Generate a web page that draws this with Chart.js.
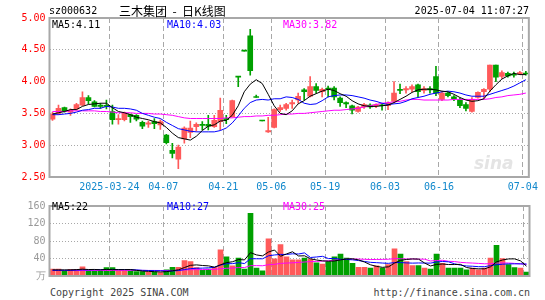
<!DOCTYPE html>
<html>
<head>
<meta charset="utf-8">
<script src="https://cdn.jsdelivr.net/npm/chart.js@4.4.1/dist/chart.umd.min.js"></script>
<style>
  html, body { margin: 0; padding: 0; background: #fff; }
  #wrap { position: relative; width: 545px; height: 300px; overflow: hidden;
          font-family: "DejaVu Sans Mono", monospace; font-size: 10px; color: #000; }
  #wrap canvas { position: absolute; left: 0; }
  .t { position: absolute; white-space: pre; line-height: 12px; }
</style>
</head>
<body>
<div id="wrap">
  <canvas id="kline" width="545" height="196" style="top:0"></canvas>
  <canvas id="volume" width="545" height="90" style="top:196px"></canvas>

  <div class="t" style="left:49px;top:5px">sz000632</div>
  <div class="t" style="left:119px;top:3px;font-family:'Noto Sans CJK SC';font-size:12px;line-height:16px">三木集团  -  日K线图</div>
  <div class="t" style="right:16px;top:5px">2025-07-04 11:07:27</div>

  <div class="t" style="left:52px;top:19px">MA5:4.11</div>
  <div class="t" style="left:167px;top:19px;color:#0000ff">MA10:4.03</div>
  <div class="t" style="left:283px;top:19px;color:#ff00ff">MA30:3.82</div>

  <div class="t" style="left:474px;top:154px;font-family:'DejaVu Sans';font-style:italic;font-weight:bold;font-size:17px;line-height:18px;color:#e4e4e4">sina</div>

  <div class="t" style="left:52px;top:201px">MA5:22</div>
  <div class="t" style="left:167px;top:201px;color:#0000ff">MA10:27</div>
  <div class="t" style="left:283px;top:201px;color:#ff00ff">MA30:25</div>

  <div class="t" style="left:50px;top:287px;color:#444">Copyright 2025 SINA.COM</div>
  <div class="t" style="right:15px;top:287px;color:#444">http://finance.sina.com.cn</div>
</div>

<script>
// 日期 2025-03-10 .. 2025-07-04 (80 个交易日)
const dates = [
  "2025-03-10","2025-03-11","2025-03-12","2025-03-13","2025-03-14","2025-03-17","2025-03-18","2025-03-19","2025-03-20","2025-03-21",
  "2025-03-24","2025-03-25","2025-03-26","2025-03-27","2025-03-28","2025-03-31","2025-04-01","2025-04-02","2025-04-03","2025-04-07",
  "2025-04-08","2025-04-09","2025-04-10","2025-04-11","2025-04-14","2025-04-15","2025-04-16","2025-04-17","2025-04-18","2025-04-21",
  "2025-04-22","2025-04-23","2025-04-24","2025-04-25","2025-04-28","2025-04-29","2025-04-30","2025-05-06","2025-05-07","2025-05-08",
  "2025-05-09","2025-05-12","2025-05-13","2025-05-14","2025-05-15","2025-05-16","2025-05-19","2025-05-20","2025-05-21","2025-05-22",
  "2025-05-23","2025-05-26","2025-05-27","2025-05-28","2025-05-29","2025-05-30","2025-06-03","2025-06-04","2025-06-05","2025-06-06",
  "2025-06-09","2025-06-10","2025-06-11","2025-06-12","2025-06-13","2025-06-16","2025-06-17","2025-06-18","2025-06-19","2025-06-20",
  "2025-06-23","2025-06-24","2025-06-25","2025-06-26","2025-06-27","2025-06-30","2025-07-01","2025-07-02","2025-07-03","2025-07-04"
];
const axisLabels = ["2025-03-24", "04-07", "04-21", "05-06", "05-19", "06-03", "06-16", "07-04"];

const opens = [
  3.41,3.50,3.59,3.52,3.57,3.63,3.75,3.68,3.63,3.62, 3.53,3.40,3.40,3.48,3.47,3.36,3.33,3.37,3.32,3.16,
  2.92,2.78,3.10,3.20,3.29,3.33,3.33,3.29,3.37,3.42, 3.45,4.07,4.48,4.72,3.75,3.38,3.21,3.28,3.56,3.58,
  3.65,3.71,3.87,3.77,3.92,3.84,3.90,3.90,3.74,3.67, 3.62,3.53,3.60,3.63,3.62,3.63,3.62,3.69,3.88,3.87,
  3.88,3.95,3.86,3.89,4.08,3.72,3.82,3.76,3.71,3.64, 3.53,3.75,3.84,3.88,4.26,4.08,4.13,4.12,4.12,4.13
];
const highs = [
  3.52,3.63,3.60,3.57,3.66,3.84,3.78,3.70,3.66,3.71, 3.63,3.48,3.52,3.49,3.48,3.38,3.38,3.42,3.40,3.17,
  3.03,3.00,3.29,3.38,3.35,3.37,3.47,3.47,3.74,3.47, 3.71,4.07,4.48,4.82,3.79,3.38,3.44,3.57,3.63,3.66,
  3.71,3.82,3.89,4.08,3.97,3.90,3.93,3.92,3.76,3.68, 3.63,3.61,3.66,3.65,3.65,3.66,3.68,4.00,3.96,3.92,
  3.95,3.96,3.92,3.92,4.24,3.84,3.83,3.78,3.74,3.67, 3.75,3.84,3.89,4.26,4.26,4.17,4.15,4.15,4.16,4.16
];
const lows = [
  3.39,3.48,3.52,3.47,3.55,3.62,3.65,3.60,3.58,3.57, 3.33,3.33,3.38,3.36,3.38,3.26,3.28,3.26,3.25,3.02,
  2.80,2.63,3.03,3.12,3.22,3.24,3.24,3.28,3.24,3.34, 3.44,3.92,4.48,4.10,3.75,3.38,3.20,3.27,3.53,3.55,
  3.58,3.66,3.71,3.76,3.82,3.76,3.76,3.71,3.61,3.59, 3.49,3.52,3.58,3.58,3.59,3.55,3.56,3.67,3.81,3.82,
  3.84,3.76,3.82,3.82,3.78,3.70,3.76,3.70,3.59,3.54, 3.52,3.74,3.74,3.84,4.00,4.05,4.07,4.07,4.11,4.10
];
const closes = [
  3.49,3.58,3.54,3.55,3.64,3.75,3.70,3.61,3.61,3.61, 3.40,3.42,3.50,3.45,3.41,3.30,3.35,3.34,3.37,3.04,
  2.87,2.97,3.27,3.27,3.33,3.31,3.30,3.39,3.55,3.40, 3.70,4.07,4.48,4.17,3.75,3.38,3.23,3.56,3.59,3.64,
  3.67,3.77,3.84,3.92,3.86,3.88,3.88,3.76,3.67,3.65, 3.55,3.60,3.64,3.60,3.64,3.62,3.66,3.82,3.86,3.89,
  3.92,3.84,3.89,3.87,3.82,3.82,3.78,3.73,3.62,3.58, 3.72,3.83,3.88,4.26,4.07,4.14,4.09,4.10,4.14,4.12
];
const ma5 = [
  3.49,3.51,3.53,3.56,3.56,3.61,3.64,3.65,3.66,3.66, 3.59,3.53,3.51,3.48,3.44,3.42,3.40,3.37,3.35,3.28,
  3.19,3.12,3.10,3.08,3.14,3.23,3.30,3.32,3.38,3.39, 3.47,3.62,3.84,3.96,4.03,3.97,3.80,3.62,3.50,3.48,
  3.54,3.65,3.70,3.77,3.81,3.85,3.88,3.86,3.81,3.77, 3.70,3.65,3.62,3.61,3.61,3.62,3.63,3.67,3.72,3.77,
  3.83,3.87,3.88,3.88,3.87,3.85,3.84,3.80,3.75,3.71, 3.69,3.70,3.73,3.85,3.95,4.04,4.09,4.13,4.11,4.11
];
const ma10 = [
  3.48,3.48,3.49,3.50,3.52,3.55,3.56,3.58,3.58,3.61, 3.60,3.58,3.58,3.57,3.55,3.50,3.47,3.44,3.42,3.36,
  3.31,3.26,3.24,3.22,3.21,3.21,3.21,3.21,3.23,3.27, 3.35,3.46,3.58,3.67,3.71,3.72,3.71,3.73,3.73,3.76,
  3.75,3.72,3.66,3.64,3.65,3.70,3.76,3.78,3.79,3.79, 3.78,3.76,3.74,3.71,3.69,3.66,3.64,3.65,3.66,3.69,
  3.73,3.75,3.77,3.80,3.82,3.84,3.85,3.84,3.82,3.79, 3.77,3.77,3.77,3.80,3.83,3.86,3.89,3.93,3.98,4.03
];
const ma30 = [
  3.53,3.53,3.53,3.54,3.54,3.54,3.54,3.54,3.53,3.53, 3.52,3.51,3.51,3.51,3.50,3.50,3.50,3.49,3.49,3.48,
  3.47,3.45,3.43,3.42,3.42,3.42,3.42,3.42,3.42,3.43, 3.43,3.44,3.45,3.45,3.46,3.46,3.47,3.47,3.48,3.49,
  3.49,3.50,3.50,3.51,3.52,3.53,3.54,3.55,3.55,3.56, 3.57,3.58,3.60,3.62,3.64,3.66,3.67,3.68,3.69,3.71,
  3.72,3.72,3.71,3.71,3.71,3.71,3.71,3.72,3.72,3.72, 3.72,3.72,3.72,3.73,3.75,3.76,3.78,3.79,3.80,3.82
];

// 成交量 (万手)
const volume = [
  16,16,11,15,15,21,12,12,11,19, 19,12,12,12,10,10,9,9,8,14,
  20,20,35,33,19,13,16,20,60,44, 23,41,16,143,18,12,85,39,72,44,
  37,37,41,38,30,27,33,44,50,41, 29,20,20,18,23,18,26,62,50,33,
  24,24,18,16,50,29,18,18,18,14, 18,14,18,41,70,40,26,19,18,9
];
const volMa5 = [
  14,14,14,14,14.6,15.6,14.8,15,14.2,15, 14.6,14.6,14.6,14.8,13,11.2,10.6,10,9.2,10,
  12,14.2,19.4,24.4,25.4,24,23.2,20.2,25.6,30.6, 32.6,37.6,36.8,53.4,48.2,46,54.8,59.4,45.2,50.4,
  55.4,45.8,46.2,39.4,36.6,34.6,33.8,34.4,36.8,39, 39.4,36.8,32,25.6,22,19.8,21,29.4,35.8,37.8,
  39,38.6,29.8,23,26.4,27.4,26.2,26.2,26.6,19.4, 17.2,16.4,16.4,21,32.2,36.6,39,39.2,34.6,22.4
];
const volMa10 = [
  13,13,13,13,13.5,14,14,14.5,14.5,14.8, 15.1,14.7,14.8,14.5,14,12.9,12.6,12.3,12,11.5,
  11.6,12.4,14.7,16.8,17.7,18,18.7,19.8,25,28, 28.3,30.4,28.5,39.5,39.4,39.3,46.2,48.1,49.3,49.3,
  50.7,50.3,52.8,42.3,43.5,45,39.8,40.3,38.1,37.8, 37,35.3,33.2,31.2,30.5,29.6,28.9,30.7,30.7,29.9,
  29.4,29.8,29.6,29.4,32.1,33.2,32.4,28,24.8,22.9, 22.3,21.3,21.3,23.8,25.8,26.9,27.7,27.8,27.8,27.3
];
const volMa30 = [
  12.5,12.5,12.5,12.5,12.5,12.6,12.6,12.6,12.6,12.7, 12.8,12.8,12.8,12.8,12.8,12.8,12.7,12.7,12.6,12.6,
  12.8,13.2,13.8,14.4,14.6,14.7,14.9,15.2,16.6,17.6, 18.3,19.2,19.3,23.6,23.7,23.4,25.8,26.7,28.8,29.6,
  30.2,31,32,32.9,33.5,34.1,34.9,36.1,37.5,38.4, 38.7,38.7,38.2,37.7,37.8,38,38.3,39.7,39.4,39,
  39,38.5,38.5,34.3,35.4,35.9,33.7,33,31.2,30.2, 29.6,28.8,28,28.1,29.5,29.9,29.7,28.8,27.8,26.7
];

const UP = "#ff5a5a";
const DOWN = "#00a000";
const GRID = "#a8a8a8";
const FONT = { family: "DejaVu Sans Mono", size: 10 };

const barColors = opens.map((o, i) => (closes[i] > o ? UP : DOWN));
const axisLabelAt = (i) => (i < dates.length ? axisLabels.find((l) => dates[i].endsWith(l)) : undefined);

// 外框
const framePlugin = {
  id: "frame",
  afterDraw(chart) {
    const { ctx, chartArea: a } = chart;
    ctx.save();
    ctx.strokeStyle = GRID;
    ctx.lineWidth = 2;
    ctx.strokeRect(a.left, a.top, a.right - a.left, a.bottom - a.top);
    ctx.restore();
  },
};

function xScale(showLabels, height) {
  return {
    offset: true,
    grid: {
      offset: true,
      drawTicks: false,
      lineWidth: 1,
      color: (c) => (axisLabelAt(c.index) ? GRID : "rgba(0,0,0,0)"),
    },
    border: { display: false, dash: [5, 3] },
    ticks: {
      display: showLabels,
      autoSkip: false,
      maxRotation: 0,
      labelOffset: -3,
      padding: 4,
      color: "#1188cc",
      font: FONT,
      callback: (v, i) => axisLabelAt(i) || "",
    },
    afterFit: (s) => { s.height = height; },
  };
}

function maLine(data, color) {
  return {
    type: "line",
    data,
    borderColor: color,
    borderWidth: 1,
    pointRadius: 0,
    fill: false,
    tension: 0,
    order: 0,
  };
}

Chart.defaults.animation = false;

new Chart(document.getElementById("kline"), {
  type: "bar",
  data: {
    labels: dates,
    datasets: [
      maLine(ma5, "#000000"),
      maLine(ma10, "#0000ff"),
      maLine(ma30, "#ff00ff"),
      {
        data: opens.map((o, i) => [o, closes[i]]),
        backgroundColor: barColors,
        barThickness: 5,
        minBarLength: 1,
        grouped: false,
        borderWidth: 0,
        order: 1,
      },
      {
        data: lows.map((l, i) => [l, highs[i]]),
        backgroundColor: barColors,
        barThickness: 1,
        grouped: false,
        borderWidth: 0,
        order: 2,
      },
    ],
  },
  options: {
    responsive: false,
    devicePixelRatio: 1,
    layout: { padding: { left: 0, right: 15.5, top: 18, bottom: 0 } },
    plugins: { legend: { display: false }, tooltip: { enabled: false } },
    scales: {
      x: xScale(true, 19),
      y: {
        min: 2.5,
        max: 5,
        grid: { drawTicks: false, color: GRID },
        border: { display: false, dash: [1, 2] },
        ticks: { stepSize: 0.5, padding: 4, color: "#ff0000", font: FONT, callback: (v) => v.toFixed(2) },
        afterFit: (s) => { s.width = 49.5; },
      },
    },
  },
  plugins: [framePlugin],
});

new Chart(document.getElementById("volume"), {
  type: "bar",
  data: {
    labels: dates,
    datasets: [
      maLine(volMa5, "#000000"),
      maLine(volMa10, "#0000ff"),
      maLine(volMa30, "#ff00ff"),
      {
        data: volume,
        backgroundColor: barColors,
        barThickness: 5,
        grouped: false,
        borderWidth: 0,
        order: 1,
      },
    ],
  },
  options: {
    responsive: false,
    devicePixelRatio: 1,
    layout: { padding: { left: 0, right: 15.5, top: 5, bottom: 0.5 } },
    plugins: { legend: { display: false }, tooltip: { enabled: false } },
    scales: {
      x: xScale(false, 0),
      y: {
        min: 0,
        max: 160,
        grid: { drawTicks: false, color: GRID },
        border: { display: false, dash: [1, 2] },
        ticks: { stepSize: 40, padding: 4, color: "#999999", font: FONT, callback: (v) => (v === 0 ? "万" : v) },
        afterFit: (s) => { s.width = 49.5; },
      },
    },
  },
  plugins: [framePlugin],
});
</script>
</body>
</html>
